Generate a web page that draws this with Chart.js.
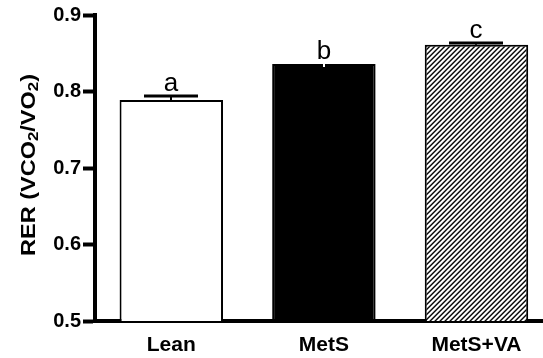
<!DOCTYPE html>
<html><head><meta charset="utf-8">
<script src="https://cdn.jsdelivr.net/npm/chart.js@4"></script>
<style>html,body{margin:0;padding:0;background:#fff}#wrap{width:543px;height:358px}</style>
</head><body><div id="wrap"><canvas id="c" width="543" height="358"></canvas></div>
<script>
const categories = ['Lean', 'MetS', 'MetS+VA'];
const xPositions = [0, 1, 2];
const rerValues = [0.789, 0.836, 0.861];
const semValues = [0.0052, 0.004, 0.0025];
const sigLetters = ['a', 'b', 'c'];
const yTicks = [0.5, 0.6, 0.7, 0.8, 0.9];
const yTitleParts = [['RER (VCO', false], ['2', true], ['/VO', false], ['2', true], [')', false]];

const FONT = "'Liberation Sans', Arial, Helvetica, sans-serif";

function hatchPattern() {
  const c = document.createElement('canvas');
  c.width = 5; c.height = 5;
  const g = c.getContext('2d');
  const img = g.createImageData(5, 5);
  for (let y = 0; y < 5; y++) for (let x = 0; x < 5; x++) {
    const k = (x + y) % 5;
    const v = k === 0 ? 10 : (k === 1 ? 95 : (k === 4 ? 165 : 255));
    const i = (y * 5 + x) * 4;
    img.data[i] = v; img.data[i + 1] = v; img.data[i + 2] = v; img.data[i + 3] = 255;
  }
  g.putImageData(img, 0, 0);
  return g.createPattern(c, 'repeat');
}
const ctx0 = document.getElementById('c').getContext('2d');
const fills = ['#ffffff', '#000000', hatchPattern()];

const errorPlugin = {
  id: 'errorsAndLetters',
  afterDatasetsDraw(chart) {
    const ctx = chart.ctx, ys = chart.scales.y;
    const meta = chart.getDatasetMeta(0);
    ctx.save();
    meta.data.forEach((bar, i) => {
      const x = Math.round(bar.x);
      const top = ys.getPixelForValue(rerValues[i]);
      const dark = i === 1;
      let letterY;
      if (dark) {
        const low = ys.getPixelForValue(rerValues[i] - semValues[i]);
        ctx.strokeStyle = '#fff'; ctx.lineWidth = 2;
        ctx.beginPath(); ctx.moveTo(x, top); ctx.lineTo(x, low); ctx.stroke();
        letterY = top;
      } else {
        const hi = ys.getPixelForValue(rerValues[i] + semValues[i]);
        ctx.strokeStyle = '#000'; ctx.lineWidth = 2;
        ctx.beginPath(); ctx.moveTo(x, top); ctx.lineTo(x, hi); ctx.stroke();
        ctx.lineWidth = 3;
        ctx.beginPath(); ctx.moveTo(x - 27, hi); ctx.lineTo(x + 27, hi); ctx.stroke();
        letterY = hi;
      }
      ctx.fillStyle = '#000';
      ctx.font = '26px ' + FONT;
      ctx.textAlign = 'center';
      ctx.textBaseline = 'alphabetic';
      ctx.fillText(sigLetters[i], x, letterY - 5);
    });
    ctx.restore();
  }
};

const yTitlePlugin = {
  id: 'yTitle',
  afterDraw(chart) {
    const ctx = chart.ctx;
    const mainFont = 'bold 21px ' + FONT, subFont = 'bold 15px ' + FONT;
    ctx.save();
    let total = 0;
    const widths = yTitleParts.map(([t, sub]) => { ctx.font = sub ? subFont : mainFont; const w = ctx.measureText(t).width; total += w; return w; });
    const stretch = 1.12;
    ctx.translate(27, 165);
    ctx.rotate(-Math.PI / 2);
    ctx.scale(stretch, 1);
    ctx.fillStyle = '#000';
    ctx.textBaseline = 'alphabetic';
    ctx.textAlign = 'left';
    let xx = -total / 2;
    yTitleParts.forEach(([t, sub], i) => {
      ctx.font = sub ? subFont : mainFont;
      ctx.fillText(t, xx, sub ? 11 : 7.5);
      xx += widths[i];
    });
    ctx.restore();
  }
};

new Chart(ctx0, {
  type: 'bar',
  data: {
    datasets: [{
      data: xPositions.map((x, i) => ({ x: x, y: rerValues[i] })),
      backgroundColor: fills,
      borderColor: '#000',
      borderWidth: 2,
      borderSkipped: 'start',
      categoryPercentage: 1,
      barPercentage: 0.678
    }]
  },
  options: {
    responsive: false,
    animation: false,
    devicePixelRatio: 1,
    layout: { padding: { top: 15, right: 0, bottom: 0, left: 0 } },
    plugins: { legend: { display: false }, tooltip: { enabled: false } },
    scales: {
      x: {
        type: 'linear', min: -0.5, max: 2.436, offset: false,
        afterBuildTicks: s => { s.ticks = xPositions.map(v => ({ value: v })); },
        ticks: {
          callback: v => categories[xPositions.indexOf(v)],
          font: { family: FONT, size: 21, weight: 'bold' }, color: '#000',
          padding: 4, autoSkip: false, maxRotation: 0
        },
        grid: { display: false },
        border: { width: 4, color: '#000' },
        afterFit: s => { s.height = 37; }
      },
      y: {
        min: 0.5, max: 0.9,
        afterBuildTicks: s => { s.ticks = yTicks.map(v => ({ value: v })); },
        ticks: {
          callback: v => v.toFixed(1),
          font: { family: FONT, size: 20, weight: 'bold' }, color: '#000', padding: 2
        },
        grid: { display: true, drawOnChartArea: false, drawTicks: true, tickLength: 12, tickWidth: 4, tickColor: '#000' },
        border: { width: 4, color: '#000' },
        afterFit: s => { s.width = 95; }
      }
    }
  },
  plugins: [errorPlugin, yTitlePlugin]
});
</script></body></html>
